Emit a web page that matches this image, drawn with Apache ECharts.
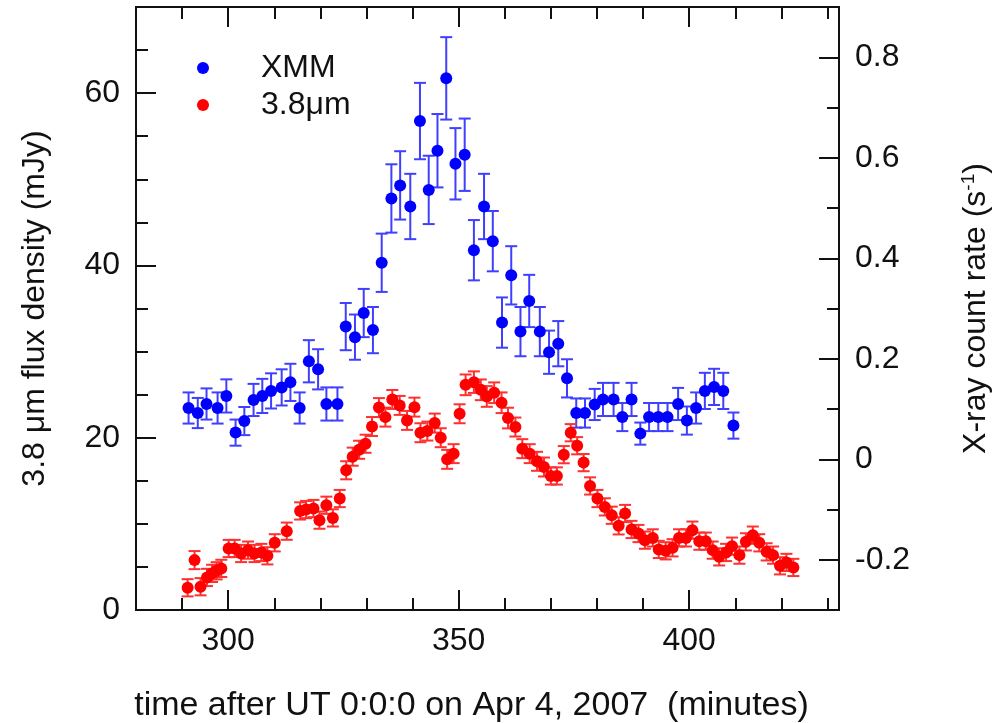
<!DOCTYPE html>
<html><head><meta charset="utf-8">
<script src="https://cdn.jsdelivr.net/npm/echarts@6/dist/echarts.min.js"></script>
<style>html,body{margin:0;padding:0;background:#fff}#c{width:998px;height:723px}</style>
</head><body><div id="c"></div>
<script>
// XMM X-ray count rate (s^-1), right axis
const xmmTime = [291.4,293.4,295.3,297.7,299.6,301.6,303.5,305.5,307.4,309.3,311.6,313.5,315.5,317.5,319.5,321.3,323.7,325.5,327.5,329.4,331.4,333.3,335.4,337.3,339.5,341.6,343.5,345.4,347.3,349.3,351.3,353.3,355.5,357.4,359.4,361.4,363.4,365.3,367.6,369.6,371.6,373.5,375.5,377.4,379.5,381.3,383.6,385.5,387.5,389.4,391.3,393.3,395.3,397.6,399.5,401.5,403.4,405.4,407.4,409.6];
const xmmRate = [0.102,0.092,0.110,0.102,0.126,0.053,0.076,0.118,0.126,0.136,0.143,0.153,0.102,0.195,0.179,0.110,0.110,0.264,0.243,0.291,0.257,0.391,0.519,0.545,0.503,0.673,0.536,0.614,0.758,0.588,0.606,0.416,0.503,0.434,0.272,0.366,0.254,0.315,0.254,0.213,0.230,0.161,0.092,0.092,0.109,0.119,0.119,0.084,0.119,0.051,0.084,0.084,0.084,0.110,0.077,0.102,0.136,0.144,0.136,0.067];
const xmmErr = [0.031,0.030,0.031,0.031,0.033,0.026,0.028,0.032,0.034,0.035,0.036,0.037,0.031,0.042,0.040,0.033,0.033,0.047,0.045,0.048,0.046,0.058,0.068,0.068,0.065,0.076,0.068,0.073,0.082,0.071,0.072,0.060,0.065,0.060,0.050,0.058,0.049,0.052,0.049,0.043,0.045,0.038,0.029,0.029,0.031,0.033,0.033,0.028,0.033,0.022,0.028,0.028,0.028,0.032,0.028,0.031,0.036,0.036,0.036,0.026];

// 3.8 micron flux density (mJy), left axis
const irTime = [291.2,292.7,294.0,295.4,296.5,297.5,298.5,300.1,301.4,302.8,304.3,305.7,307.2,308.5,310.1,312.7,315.6,316.9,318.5,319.8,321.3,322.7,324.2,325.6,327.0,328.4,329.8,331.2,332.7,334.1,335.6,337.2,338.8,340.4,341.7,343.2,344.8,346.1,347.5,348.9,350.2,351.5,353.3,354.8,356.1,357.7,359.3,360.7,362.3,363.8,365.4,367.0,368.5,370.0,371.3,372.8,374.3,375.7,377.1,378.5,380.1,381.7,383.2,384.7,386.1,387.5,389.0,390.4,392.1,393.4,394.9,396.4,397.8,399.3,400.7,402.2,403.6,405.1,406.5,408.0,409.3,410.9,412.3,413.8,415.2,416.8,418.2,419.7,421.1,422.6];
const irFlux = [2.58,5.79,2.70,3.78,4.25,4.55,4.83,7.14,7.14,6.56,6.95,6.56,6.68,6.29,7.80,9.15,11.50,11.66,11.78,10.43,12.16,10.69,12.94,16.22,17.8,18.6,19.3,21.3,23.5,22.39,24.44,23.75,22.01,23.55,20.58,20.77,21.70,20.00,17.49,18.15,22.78,26.14,26.45,25.56,24.79,25.22,24.06,22.28,21.24,18.73,18.15,17.26,16.60,15.56,15.56,18.03,20.58,19.07,17.11,14.40,12.94,11.97,11.00,9.77,11.20,9.35,8.88,8.11,8.37,7.03,6.87,7.22,8.37,8.37,9.27,7.99,7.99,6.95,6.17,6.68,7.41,6.37,7.91,8.69,7.80,6.75,6.37,5.13,5.52,4.94];
const irErr = [1.0,1.05,1.0,1.0,1.0,1.0,1.0,1.0,1.0,1.0,1.0,1.0,1.0,1.0,1.0,1.0,1.0,1.0,1.0,1.0,1.0,1.0,1.0,1.05,1.05,1.05,1.05,1.1,1.1,1.1,1.1,1.1,1.1,1.1,1.1,1.1,1.1,1.1,1.1,1.1,1.1,1.2,1.25,1.2,1.2,1.2,1.2,1.2,1.1,1.1,1.1,1.1,1.1,1.0,1.0,1.0,1.0,1.0,1.0,1.0,1.0,1.0,1.0,1.0,1.0,1.0,1.0,1.0,1.0,1.0,1.0,1.0,1.0,1.0,1.0,1.0,1.0,1.0,1.0,1.0,1.0,1.0,1.0,1.0,1.0,1.0,1.0,1.0,1.0,1.0];

// tick values
const xMajor = [300,350,400];
const xMinor = [290,310,320,330,340,360,370,380,390,410,420,430];
const yLeftMajor = [0,20,40,60];
const yLeftMinor = [5,10,15,25,30,35,45,50,55,65];
const yRightMajor = [-0.2,0,0.2,0.4,0.6,0.8];
const yRightMinor = [-0.1,0.1,0.3,0.5,0.7];

const FONT = '"Liberation Sans", Arial, sans-serif';
const TICK_FS = 32, TITLE_FS = 32;
const chart = echarts.init(document.getElementById('c'), null, {renderer:'canvas'});

function errRenderer(color){
  return function(params, api){
    const x = api.value(0), lo = api.value(1), hi = api.value(2);
    const a = api.coord([x, hi]), b = api.coord([x, lo]);
    const hw = 6;
    const st = {stroke: color, lineWidth: 2};
    return {type:'group', children:[
      {type:'line', shape:{x1:a[0],y1:a[1],x2:b[0],y2:b[1]}, style:st},
      {type:'line', shape:{x1:a[0]-hw,y1:a[1],x2:a[0]+hw,y2:a[1]}, style:st},
      {type:'line', shape:{x1:b[0]-hw,y1:b[1],x2:b[0]+hw,y2:b[1]}, style:st}
    ]};
  };
}

const xmmPts = xmmTime.map((t,i)=>[t, xmmRate[i]]);
const xmmBars = xmmTime.map((t,i)=>[t, xmmRate[i]-xmmErr[i], xmmRate[i]+xmmErr[i]]);
const irPts = irTime.map((t,i)=>[t, irFlux[i]]);
const irBars = irTime.map((t,i)=>[t, irFlux[i]-irErr[i], irFlux[i]+irErr[i]]);

const lineStyle = {color:'#111', width:2};
function xAx(pos, vals, len, labels, extra){
  return Object.assign({
    type:'value', position:pos, min:280, max:432.5, gridIndex:0,
    axisLine:{show:true, onZero:false, lineStyle},
    axisTick:{show:true, inside:true, length:len, customValues:vals, lineStyle:{color:'#111',width:2}},
    axisLabel: labels ? {show:true, customValues:vals, fontFamily:FONT, fontSize:TICK_FS, color:'#111', margin:15} : {show:false},
    splitLine:{show:false}
  }, extra||{});
}
function yAx(pos, min, max, vals, len, labels, extra){
  return Object.assign({
    type:'value', position:pos, min:min, max:max, gridIndex:0,
    axisLine:{show:true, onZero:false, lineStyle},
    axisTick:{show:true, inside:true, length:len, customValues:vals, lineStyle:{color:'#111',width:2}},
    axisLabel: labels ? {show:true, customValues:vals, fontFamily:FONT, fontSize:TICK_FS, color:'#111', margin:16,
      formatter: v => String(Math.round(v*10)/10)} : {show:false},
    splitLine:{show:false}
  }, extra||{});
}

chart.setOption({
  animation:false,
  backgroundColor:'#fff',
  grid:{left:136, right:159, top:7, bottom:113, containLabel:false, outerBoundsMode:'none'},
  legend:{
    data:['XMM','3.8\u03bcm'], orient:'vertical', left:192, top:47,
    icon:'circle', itemWidth:12, itemHeight:12, itemGap:5,
    textStyle:{fontFamily:FONT, fontSize:TICK_FS, color:'#111', lineHeight:32, padding:[0,0,0,47]}
  },
  xAxis:[
    xAx('bottom', xMajor, 20, true, {name:'time after UT 0:0:0 on Apr 4, 2007  (minutes)', nameLocation:'middle', nameGap:79,
      nameTextStyle:{fontFamily:FONT, fontSize:34, color:'#111', padding:[0,32,0,0]}}),
    xAx('bottom', xMinor, 12, false),
    xAx('top', xMajor, 20, false),
    xAx('top', xMinor, 12, false)
  ],
  yAxis:[
    yAx('left', 0, 70, yLeftMajor, 20, true, {name:'3.8 \u03bcm flux density (mJy)', nameLocation:'middle', nameGap:85,
      nameTextStyle:{fontFamily:FONT, fontSize:TITLE_FS, color:'#111'}}),
    yAx('left', 0, 70, yLeftMinor, 12, false),
    yAx('right', -0.3, 0.9, yRightMajor, 20, true, {name:'X-ray count rate (s{sup|-1})', nameLocation:'middle', nameGap:120, nameRotate:90,
      nameTextStyle:{fontFamily:FONT, fontSize:TITLE_FS, color:'#111', rich:{sup:{fontFamily:FONT, fontSize:19, color:'#111', padding:[0,0,16,0]}}}}),
    yAx('right', -0.3, 0.9, yRightMinor, 12, false)
  ],
  series:[
    {type:'custom', name:'xmmErr', xAxisIndex:0, yAxisIndex:2, renderItem:errRenderer('#3f3fff'), data:xmmBars,
      encode:{x:0, y:[1,2]}, z:2, silent:true},
    {type:'scatter', name:'XMM', xAxisIndex:0, yAxisIndex:2, data:xmmPts, symbol:'circle', symbolSize:12,
      itemStyle:{color:'#0000ff', opacity:1}, z:3},
    {type:'custom', name:'irErr', xAxisIndex:0, yAxisIndex:0, renderItem:errRenderer('#ff3030'), data:irBars,
      encode:{x:0, y:[1,2]}, z:4, silent:true},
    {type:'scatter', name:'3.8\u03bcm', xAxisIndex:0, yAxisIndex:0, data:irPts, symbol:'circle', symbolSize:12,
      itemStyle:{color:'#ff0000', opacity:1}, z:5}
  ]
});
</script>
</body></html>
